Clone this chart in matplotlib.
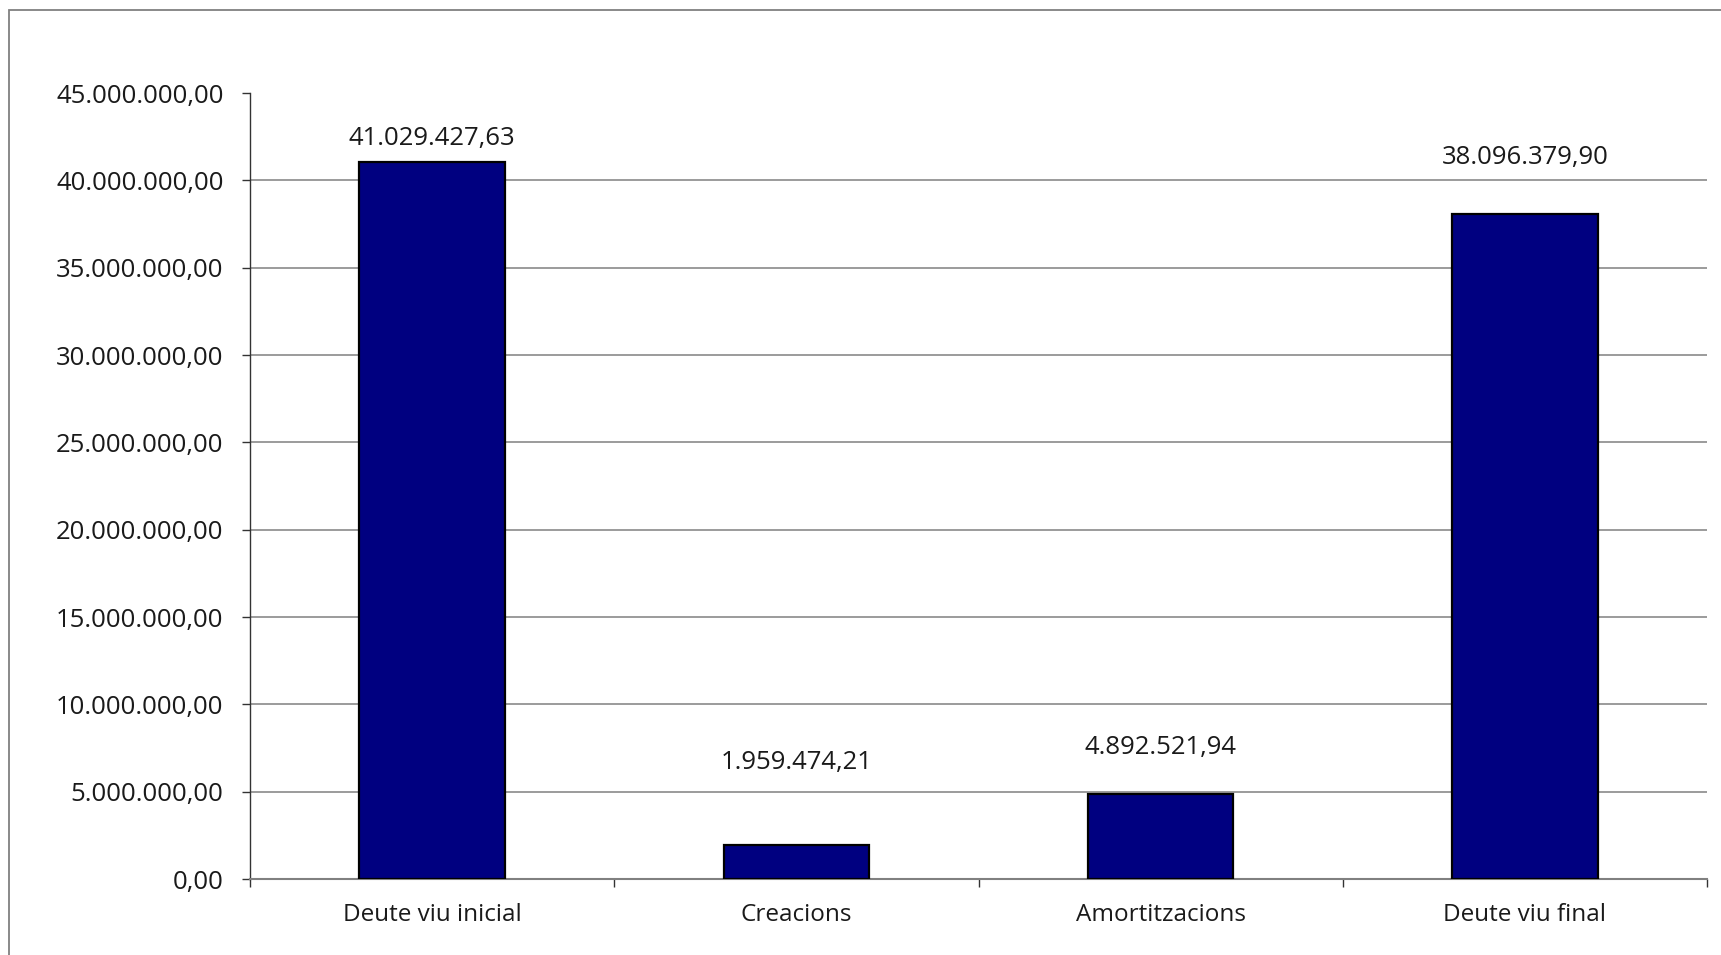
import matplotlib
matplotlib.use("Agg")
import matplotlib.pyplot as plt
from matplotlib.patches import Rectangle
from matplotlib.ticker import FixedLocator, FuncFormatter

categories = ["Deute viu inicial", "Creacions", "Amortitzacions", "Deute viu final"]
values = [41029427.63, 1959474.21, 4892521.94, 38096379.90]
value_labels = ["41.029.427,63", "1.959.474,21", "4.892.521,94", "38.096.379,90"]
y_ticks = [0, 5e6, 10e6, 15e6, 20e6, 25e6, 30e6, 35e6, 40e6, 45e6]

# label baseline gap above each bar, in points (style)
label_gap_pt = [12.2, 54.6, 28.8, 35.4]

plt.rcParams['font.family'] = ['Open Sans', 'DejaVu Sans']

def es_fmt(v, pos=None):
    s = f"{v:,.2f}"
    return s.replace(",", "X").replace(".", ",").replace("X", ".")

fig = plt.figure(figsize=(17.21, 9.55), dpi=100)
ax = fig.add_axes([250/1721, (955-879)/955, (1707-250)/1721, (879-93)/955])

# outer frame (only left and top visible)
fig.patches.append(Rectangle((9/1721, -0.05), 1.2, (955-10)/955 + 0.05,
                             transform=fig.transFigure, fill=False,
                             edgecolor="#808080", linewidth=1.3))

x = list(range(len(categories)))
bars = ax.bar(x, values, width=0.40, color="#000080", edgecolor="black",
              linewidth=1.6, zorder=3)

ax.set_xlim(-0.5, len(categories) - 0.5)
ax.set_ylim(0, 45e6)
ax.yaxis.set_major_locator(FixedLocator(y_ticks))
ax.yaxis.set_major_formatter(FuncFormatter(es_fmt))

ax.set_xticks(x)
ax.set_xticklabels(categories)
ax.set_xticks([i - 0.5 for i in range(len(categories) + 1)], minor=True)
ax.tick_params(axis="x", which="major", length=0, pad=17.5, labelsize=17.5, labelcolor="#1a1a1a")
ax.tick_params(axis="x", which="minor", length=6, width=1, color="#333333", direction="out")
ax.tick_params(axis="y", length=6, width=1, color="#333333", pad=13, labelsize=18.5, labelcolor="#1a1a1a")

ax.yaxis.grid(True, color="#808080", linewidth=1.1, zorder=0)
ax.set_axisbelow(True)
for gl, t in zip(ax.get_ygridlines(), y_ticks):
    if t == y_ticks[-1] or t == 0:
        gl.set_visible(False)

for s in ["top", "right"]:
    ax.spines[s].set_visible(False)
ax.spines["left"].set_color("#333333")
ax.spines["left"].set_linewidth(1.0)
ax.spines["bottom"].set_color("#808080")
ax.spines["bottom"].set_linewidth(1.5)

for b, lab, gap in zip(bars, value_labels, label_gap_pt):
    ax.annotate(lab, (b.get_x() + b.get_width() / 2, b.get_height()),
                xytext=(0, gap), textcoords="offset points",
                ha="center", va="baseline", fontsize=18.5, color="#1a1a1a")

fig.savefig("out.png", dpi=100, facecolor="white")
